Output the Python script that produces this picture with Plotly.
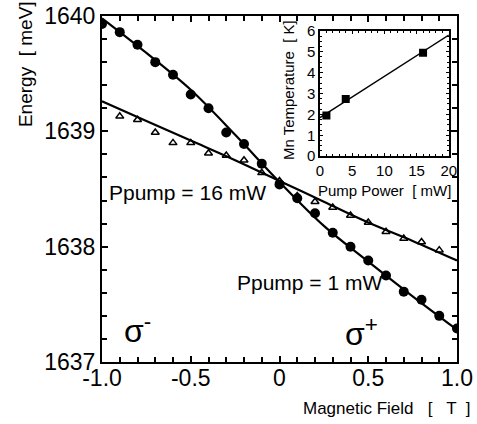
import plotly.graph_objects as go

# ---- main data: Energy vs Magnetic Field ----
field = [-1.0, -0.9, -0.8, -0.7, -0.6, -0.5, -0.4, -0.3, -0.2, -0.1, 0.0,
         0.1, 0.2, 0.3, 0.4, 0.5, 0.6, 0.7, 0.8, 0.9, 1.0]
energy_1mw = [1639.93, 1639.86, 1639.75, 1639.60, 1639.49, 1639.32, 1639.20, 1638.99,
              1638.89, 1638.72, 1638.54, 1638.42, 1638.29, 1638.12, 1638.00, 1637.88,
              1637.75, 1637.61, 1637.54, 1637.40, 1637.29]
field_16mw = [-0.9, -0.8, -0.7, -0.6, -0.5, -0.4, -0.3, -0.2, -0.1, 0.0,
              0.1, 0.2, 0.3, 0.4, 0.5, 0.6, 0.7, 0.8, 0.9]
energy_16mw = [1639.13, 1639.10, 1638.99, 1638.90, 1638.90, 1638.81, 1638.79,
               1638.75, 1638.64, 1638.57, 1638.44, 1638.39, 1638.34, 1638.27, 1638.21,
               1638.13, 1638.07, 1638.04, 1637.97]

# fit curves
fit_field = [-1.0, -0.75, -0.5, -0.25, 0.0, 0.25, 0.5, 0.75, 1.0]
fit_1mw = [1639.98, 1639.68, 1639.36, 1638.97, 1638.56, 1638.18, 1637.87, 1637.57, 1637.28]
fit_16mw = [1639.26, 1639.09, 1638.92, 1638.75, 1638.57, 1638.39, 1638.21, 1638.05, 1637.88]

# ---- inset data: Mn temperature vs pump power ----
pump_power = [1, 4, 16]
mn_temp = [1.95, 2.74, 4.95]
inset_fit_power = [0, 20]
inset_fit_temp = [1.85, 5.8]

x_ticks = [-1.0, -0.5, 0.0, 0.5, 1.0]
x_ticklabels = ["-1.0", "-0.5", "0", "0.5", "1.0"]
y_ticks = [1637, 1638, 1639, 1640]

FONT = "Liberation Sans, Arial, sans-serif"

fig = go.Figure()

fig.add_trace(go.Scatter(x=fit_field, y=fit_1mw, mode="lines",
                         line=dict(color="black", width=2.2, shape="spline"),
                         showlegend=False, hoverinfo="skip"))
fig.add_trace(go.Scatter(x=fit_field, y=fit_16mw, mode="lines",
                         line=dict(color="black", width=2.2, shape="spline"),
                         showlegend=False, hoverinfo="skip"))
fig.add_trace(go.Scatter(x=field, y=energy_1mw, mode="markers",
                         marker=dict(symbol="circle", size=10, color="black"),
                         showlegend=False))
fig.add_trace(go.Scatter(x=field_16mw, y=energy_16mw, mode="markers",
                         marker=dict(symbol="triangle-up-open", size=7, color="black",
                                     line=dict(width=1.5, color="black")),
                         showlegend=False))

# inset
fig.add_trace(go.Scatter(x=inset_fit_power, y=inset_fit_temp, mode="lines",
                         line=dict(color="black", width=1.5),
                         xaxis="x2", yaxis="y2", showlegend=False))
fig.add_trace(go.Scatter(x=pump_power, y=mn_temp, mode="markers",
                         marker=dict(symbol="square", size=8, color="black"),
                         xaxis="x2", yaxis="y2", showlegend=False))

axis_common = dict(showline=True, linecolor="black", linewidth=2, mirror="ticks",
                   ticks="inside", tickcolor="black", tickwidth=2, showgrid=False,
                   zeroline=False, automargin=False)

fig.update_layout(
    width=477, height=424,
    margin=dict(l=102, r=20, t=16, b=62),
    paper_bgcolor="white", plot_bgcolor="white",
    font=dict(family=FONT, color="black"),
    xaxis=dict(range=[-1.0, 1.0], tickvals=x_ticks, ticktext=x_ticklabels,
               ticklen=6, tickfont=dict(size=23, family=FONT), ticklabelstandoff=-6,
               minor=dict(dtick=0.1, tick0=0, ticks="inside", ticklen=5, tickwidth=2,
                          tickcolor="black"),
               **axis_common),
    yaxis=dict(range=[1637, 1640], tickvals=y_ticks, ticklen=6,
               tickfont=dict(size=23, family=FONT),
               minor=dict(dtick=0.2, tick0=1637, ticks="inside", ticklen=5, tickwidth=2,
                          tickcolor="black"),
               **axis_common),
    xaxis2=dict(domain=[0.614, 0.977], anchor="y2", range=[0, 20],
                tickvals=[0, 5, 10, 15, 20], showline=True, linecolor="black",
                linewidth=1.5, mirror="ticks", ticks="inside", ticklen=3,
                tickcolor="black", tickwidth=1, showgrid=False, zeroline=False,
                automargin=False, tickfont=dict(size=15, family=FONT),
                minor=dict(dtick=1, ticks="inside", ticklen=2, tickwidth=1,
                           tickcolor="black")),
    yaxis2=dict(domain=[0.595, 0.957], anchor="x2", range=[0, 6],
                tickvals=[0, 1, 2, 3, 4, 5, 6], showline=True, linecolor="black",
                linewidth=1.5, mirror="ticks", ticks="inside", ticklen=3,
                tickcolor="black", tickwidth=1, showgrid=False, zeroline=False,
                automargin=False, tickfont=dict(size=15, family=FONT),
                minor=dict(dtick=0.25, ticks="inside", ticklen=2, tickwidth=1,
                           tickcolor="black")),
)

ann = [
    dict(text="Energy  [ meV]", x=-0.217, y=0.861, xref="paper", yref="paper",
         xanchor="center", yanchor="middle",
         textangle=-90, font=dict(size=19), showarrow=False),
    dict(text="Magnetic Field   [   T  ]", x=1.045, y=-0.133, xref="paper", yref="paper",
         xanchor="right", yanchor="middle", font=dict(size=17), showarrow=False),
    dict(text="Mn Temperature  [ K]", x=0.524, y=0.786, xref="paper", yref="paper",
         xanchor="center", yanchor="middle",
         textangle=-90, font=dict(size=15), showarrow=False),
    dict(text="Pump Power  [ mW]", x=0.797, y=0.497, xref="paper", yref="paper",
         xanchor="center", yanchor="middle", font=dict(size=15), showarrow=False),
    dict(text="Ppump = 16 mW", x=-0.97, y=1638.47, xref="x", yref="y",
         xanchor="left", yanchor="middle", font=dict(size=21), showarrow=False),
    dict(text="Ppump = 1 mW", x=-0.251, y=1637.69, xref="x", yref="y",
         xanchor="left", yanchor="middle", font=dict(size=21), showarrow=False),
    dict(text="σ<sup>-</sup>", x=-0.80, y=1637.29, xref="x", yref="y",
         xanchor="center", yanchor="middle", font=dict(size=32), showarrow=False),
    dict(text="σ<sup>+</sup>", x=0.46, y=1637.26, xref="x", yref="y",
         xanchor="center", yanchor="middle", font=dict(size=32), showarrow=False),
]
fig.update_layout(annotations=ann)

fig.write_html("out.html")
